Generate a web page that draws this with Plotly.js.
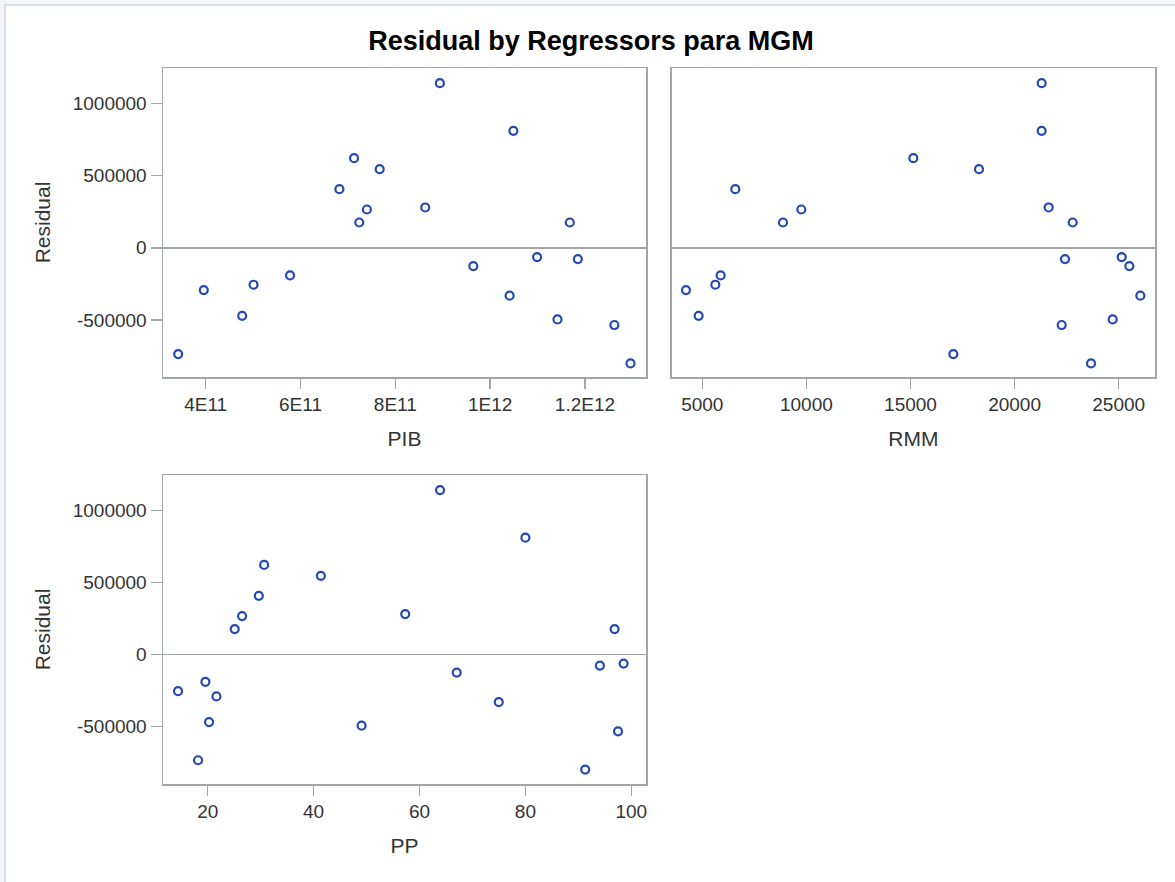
<!DOCTYPE html>
<html>
<head>
<meta charset="utf-8">
<script src="https://cdn.plot.ly/plotly-3.0.1.min.js"></script>
<style>
  html, body { margin: 0; padding: 0; background: #f3f5fb; }
  #frame { position: absolute; left: 4px; top: 4px; width: 1171px; height: 878px;
           background: #ffffff; border-left: 2px solid #dcdee4; border-top: 2px solid #dcdee4; box-sizing: border-box; }
  #chart { position: absolute; left: 0; top: 0; width: 1175px; height: 882px; }
</style>
</head>
<body>
<div id="frame"></div>
<div id="chart"></div>
<script>
// Residuals (one per observation, ordered by PIB)
const residual = [-736000, -293000, -471000, -256000, -191500, 406000, 620700, 175000, 265000, 544500,
                  279000, 1140000, -127000, -332000, 810000, -64600, -496000, 175000, -78500, -535000, -800700];
// Regressor PIB
const pib = [3.42e11, 3.96e11, 4.77e11, 5.01e11, 5.78e11, 6.82e11, 7.13e11, 7.24e11, 7.40e11, 7.67e11,
             8.63e11, 8.94e11, 9.645e11, 1.041e12, 1.049e12, 1.099e12, 1.142e12, 1.168e12, 1.185e12, 1.262e12, 1.296e12];
// Regressor RMM
const rmm = [17058, 4215, 4824, 5624, 5881, 6585, 15136, 8875, 9756, 18291,
             21637, 21301, 25512, 26041, 21301, 25144, 24712, 22790, 22422, 22262, 23671];
// Regressor PP
const pp = [18.17, 21.64, 20.25, 14.39, 19.56, 29.65, 30.65, 25.1, 26.49, 41.37,
            57.3, 63.88, 67.03, 74.97, 80, 98.55, 49.06, 96.85, 94.07, 97.5, 91.3];

// Tick labels
const residTickVals = [-500000, 0, 500000, 1000000];
const residTickText = ['-500000', '0', '500000', '1000000'];
const pibTickVals = [4e11, 6e11, 8e11, 1e12, 1.2e12];
const pibTickText = ['4E11', '6E11', '8E11', '1E12', '1.2E12'];
const rmmTickVals = [5000, 10000, 15000, 20000, 25000];
const rmmTickText = ['5000', '10000', '15000', '20000', '25000'];
const ppTickVals = [20, 40, 60, 80, 100];
const ppTickText = ['20', '40', '60', '80', '100'];

const markerStyle = { symbol: 'circle-open', size: 8, color: '#2449b4', line: { width: 2.2, color: '#2449b4' } };

const traces = [
  { x: pib, y: residual, xaxis: 'x', yaxis: 'y', type: 'scatter', mode: 'markers', marker: markerStyle, name: 'PIB', showlegend: false },
  { x: rmm, y: residual, xaxis: 'x2', yaxis: 'y2', type: 'scatter', mode: 'markers', marker: markerStyle, name: 'RMM', showlegend: false },
  { x: pp, y: residual, xaxis: 'x3', yaxis: 'y3', type: 'scatter', mode: 'markers', marker: markerStyle, name: 'PP', showlegend: false }
];

const FONT = 'Liberation Sans, Arial, sans-serif';
const frameColor = '#a2a6ab';
const tickFont = { family: FONT, size: 19, color: '#333333' };
const titleFont = { family: FONT, size: 21, color: '#333333' };

function xax(domain, range, vals, text, title, anchor) {
  return {
    domain: domain, range: range, anchor: anchor, showgrid: false, zeroline: false,
    showline: true, mirror: true, linecolor: frameColor, linewidth: 1.5,
    ticks: 'outside', ticklen: 10, tickwidth: 1.5, tickcolor: frameColor,
    tickmode: 'array', tickvals: vals, ticktext: text, tickfont: tickFont,
    title: { text: title, font: titleFont, standoff: 17 }, fixedrange: true
  };
}
function yax(domain, range, anchor, showTitle) {
  return {
    domain: domain, range: range, anchor: anchor, showgrid: false,
    zeroline: true, zerolinecolor: frameColor, zerolinewidth: 1.5,
    showline: true, mirror: true, linecolor: frameColor, linewidth: 1.5,
    ticks: 'outside', ticklen: 11, tickwidth: 1.5, tickcolor: frameColor,
    tickmode: 'array', tickvals: residTickVals, ticktext: residTickText, tickfont: tickFont,
    title: { text: showTitle ? 'Residual' : '', font: titleFont, standoff: 16 }, fixedrange: true
  };
}

const W = 1175, H = 882;
const dxL = [163 / W, 646 / W];
const dxR = [671.7 / W, 1155 / W];
const dyTop = [1 - 377 / H, 1 - 68 / H];
const dyBot = [1 - 784 / H, 1 - 475 / H];

const layout = {
  width: W, height: H,
  margin: { l: 0, r: 0, t: 0, b: 0 },
  paper_bgcolor: 'rgba(0,0,0,0)', plot_bgcolor: '#ffffff',
  font: { family: FONT, color: '#333333' },
  title: { text: 'Residual by Regressors para MGM', font: { family: FONT, size: 27, color: '#000000', weight: 'bold' },
           x: 591 / W, xanchor: 'center', y: 1 - 41 / H, yanchor: 'middle', xref: 'paper', yref: 'paper' },
  xaxis: xax(dxL, [3.1e11, 1.3287e12], pibTickVals, pibTickText, 'PIB', 'y'),
  yaxis: yax(dyTop, [-895000, 1245000], 'x', true),
  xaxis2: xax(dxR, [3530, 26744], rmmTickVals, rmmTickText, 'RMM', 'y2'),
  yaxis2: Object.assign(yax(dyTop, [-895000, 1245000], 'x2', false), { showticklabels: false, ticks: '' }),
  xaxis3: xax(dxL, [11.55, 102.78], ppTickVals, ppTickText, 'PP', 'y3'),
  yaxis3: yax(dyBot, [-901000, 1245000], 'x3', true),
  showlegend: false
};

Plotly.newPlot('chart', traces, layout, { displayModeBar: false, staticPlot: true });
</script>
</body>
</html>
